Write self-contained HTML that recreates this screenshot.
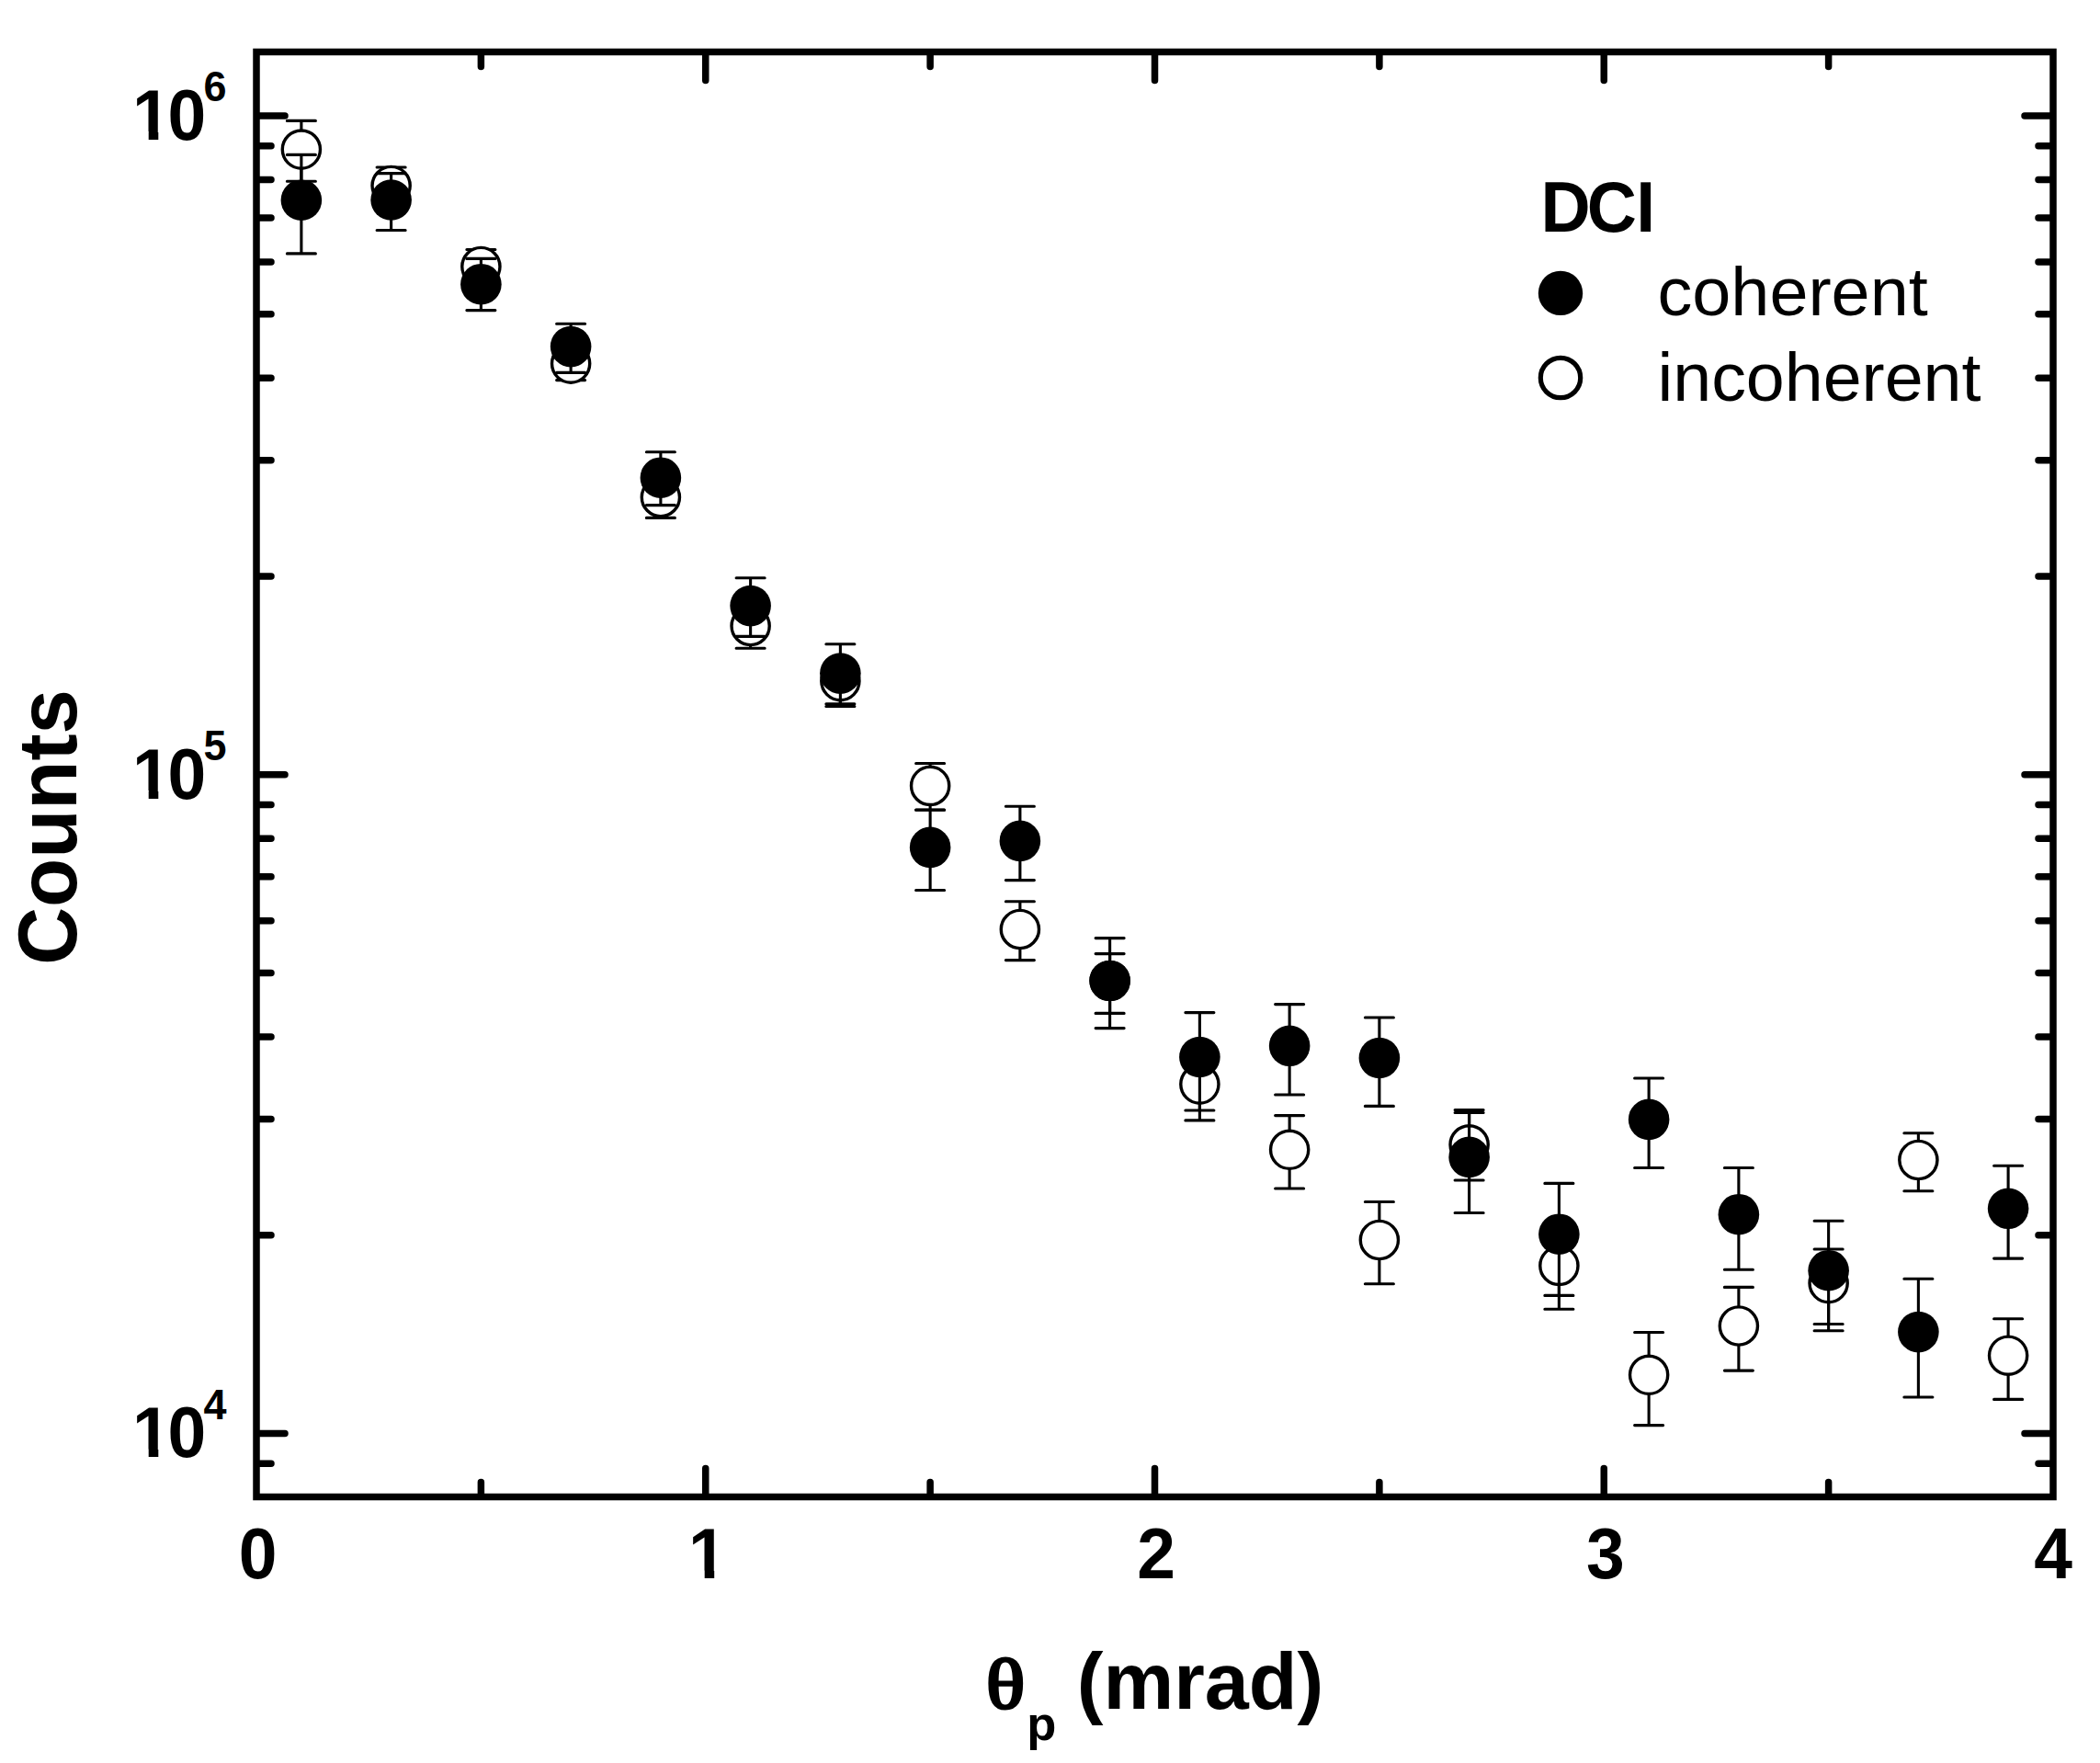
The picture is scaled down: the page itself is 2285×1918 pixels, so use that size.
<!DOCTYPE html>
<html lang="en"><head><meta charset="utf-8"><title>DCI counts vs theta_p</title>
<style>
html,body{margin:0;padding:0;background:#fff;}
body{width:2285px;height:1918px;overflow:hidden;}
svg{display:block;}
text{font-family:"Liberation Sans",Arial,Helvetica,sans-serif;fill:#000;}
.b{font-weight:bold;}
.tk{font-size:75px;font-weight:bold;}
.sup{font-size:45px;font-weight:bold;}
.ttl{font-size:88px;font-weight:bold;}
.lg{font-size:75px;}
.ax{stroke:#000;stroke-width:7.5;stroke-linecap:round;fill:none;}
.eb{stroke:#000;stroke-width:3.1;stroke-linecap:round;fill:none;}
.oc{fill:#fff;stroke:#000;stroke-width:3.4;}
.fc{fill:#000;stroke:none;}
</style></head><body>
<svg width="2285" height="1918" viewBox="0 0 2285 1918">
<rect x="0" y="0" width="2285" height="1918" fill="#fff"/>

<rect x="279.0" y="56.5" width="1955.0" height="1572.0" fill="none" stroke="#000" stroke-width="7.5" stroke-linejoin="miter"/>
<path class="ax" d="M523.38 1627.5V1612.50 M523.38 57.5V72.50 M767.75 1627.5V1597.50 M767.75 57.5V87.50 M1012.12 1627.5V1612.50 M1012.12 57.5V72.50 M1256.50 1627.5V1597.50 M1256.50 57.5V87.50 M1500.88 1627.5V1612.50 M1500.88 57.5V72.50 M1745.25 1627.5V1597.50 M1745.25 57.5V87.50 M1989.62 1627.5V1612.50 M1989.62 57.5V72.50 M280.0 1592.30H295.00 M2233.0 1592.30H2218.00 M280.0 1559.50H310.00 M2233.0 1559.50H2203.00 M280.0 1343.74H295.00 M2233.0 1343.74H2218.00 M280.0 1217.52H295.00 M2233.0 1217.52H2218.00 M280.0 1127.97H295.00 M2233.0 1127.97H2218.00 M280.0 1058.51H295.00 M2233.0 1058.51H2218.00 M280.0 1001.76H295.00 M2233.0 1001.76H2218.00 M280.0 953.78H295.00 M2233.0 953.78H2218.00 M280.0 912.21H295.00 M2233.0 912.21H2218.00 M280.0 875.55H295.00 M2233.0 875.55H2218.00 M280.0 842.75H310.00 M2233.0 842.75H2203.00 M280.0 626.99H295.00 M2233.0 626.99H2218.00 M280.0 500.77H295.00 M2233.0 500.77H2218.00 M280.0 411.22H295.00 M2233.0 411.22H2218.00 M280.0 341.76H295.00 M2233.0 341.76H2218.00 M280.0 285.01H295.00 M2233.0 285.01H2218.00 M280.0 237.03H295.00 M2233.0 237.03H2218.00 M280.0 195.46H295.00 M2233.0 195.46H2218.00 M280.0 158.80H295.00 M2233.0 158.80H2218.00 M280.0 126.00H310.00 M2233.0 126.00H2203.00"/>
<path class="eb" d="M327.88 131.40V197.30M312.38 131.40H343.38M312.38 197.30H343.38 M425.62 182.00V224.00M410.12 182.00H441.12M410.12 224.00H441.12 M523.38 271.50V309.00M507.88 271.50H538.88M507.88 309.00H538.88 M621.12 378.00V413.60M605.62 378.00H636.62M605.62 413.60H636.62 M718.88 519.00V563.40M703.38 519.00H734.38M703.38 563.40H734.38 M816.62 657.00V705.30M801.12 657.00H832.12M801.12 705.30H832.12 M914.38 721.00V765.70M898.88 721.00H929.88M898.88 765.70H929.88 M1012.13 830.50V881.20M996.63 830.50H1027.62M996.63 881.20H1027.62 M1109.88 980.70V1044.60M1094.38 980.70H1125.38M1094.38 1044.60H1125.38 M1207.62 1037.60V1102.40M1192.12 1037.60H1223.12M1192.12 1102.40H1223.12 M1305.38 1143.60V1218.90M1289.88 1143.60H1320.88M1289.88 1218.90H1320.88 M1403.13 1213.60V1293.00M1387.63 1213.60H1418.63M1387.63 1293.00H1418.63 M1500.88 1307.50V1396.80M1485.38 1307.50H1516.38M1485.38 1396.80H1516.38 M1598.62 1207.50V1284.00M1583.12 1207.50H1614.12M1583.12 1284.00H1614.12 M1696.38 1335.80V1424.30M1680.88 1335.80H1711.88M1680.88 1424.30H1711.88 M1794.12 1449.50V1550.60M1778.62 1449.50H1809.62M1778.62 1550.60H1809.62 M1891.88 1400.40V1491.10M1876.38 1400.40H1907.38M1876.38 1491.10H1907.38 M1989.63 1359.00V1440.50M1974.13 1359.00H2005.13M1974.13 1440.50H2005.13 M2087.38 1232.80V1295.80M2071.88 1232.80H2102.88M2071.88 1295.80H2102.88 M2185.12 1434.80V1522.40M2169.62 1434.80H2200.62M2169.62 1522.40H2200.62"/>
<g class="oc"><circle cx="327.88" cy="162.60" r="20.6"/><circle cx="425.62" cy="202.00" r="20.6"/><circle cx="523.38" cy="290.00" r="20.6"/><circle cx="621.12" cy="395.60" r="20.6"/><circle cx="718.88" cy="541.00" r="20.6"/><circle cx="816.62" cy="681.00" r="20.6"/><circle cx="914.38" cy="741.10" r="20.6"/><circle cx="1012.13" cy="854.90" r="20.6"/><circle cx="1109.88" cy="1011.00" r="20.6"/><circle cx="1207.62" cy="1067.00" r="20.6"/><circle cx="1305.38" cy="1179.60" r="20.6"/><circle cx="1403.13" cy="1250.80" r="20.6"/><circle cx="1500.88" cy="1349.00" r="20.6"/><circle cx="1598.62" cy="1245.30" r="20.6"/><circle cx="1696.38" cy="1376.90" r="20.6"/><circle cx="1794.12" cy="1495.80" r="20.6"/><circle cx="1891.88" cy="1442.50" r="20.6"/><circle cx="1989.63" cy="1396.10" r="20.6"/><circle cx="2087.38" cy="1262.00" r="20.6"/><circle cx="2185.12" cy="1474.70" r="20.6"/></g>
<path class="eb" d="M327.88 168.40V275.90M312.38 168.40H343.38M312.38 275.90H343.38 M425.62 188.60V250.50M410.12 188.60H441.12M410.12 250.50H441.12 M523.38 281.40V337.60M507.88 281.40H538.88M507.88 337.60H538.88 M621.12 352.30V405.40M605.62 352.30H636.62M605.62 405.40H636.62 M718.88 491.70V549.60M703.38 491.70H734.38M703.38 549.60H734.38 M816.62 628.70V692.40M801.12 628.70H832.12M801.12 692.40H832.12 M914.38 700.80V768.50M898.88 700.80H929.88M898.88 768.50H929.88 M1012.13 881.00V968.50M996.63 881.00H1027.62M996.63 968.50H1027.62 M1109.88 877.20V957.60M1094.38 877.20H1125.38M1094.38 957.60H1125.38 M1207.62 1020.60V1118.60M1192.12 1020.60H1223.12M1192.12 1118.60H1223.12 M1305.38 1101.60V1208.00M1289.88 1101.60H1320.88M1289.88 1208.00H1320.88 M1403.13 1092.60V1191.00M1387.63 1092.60H1418.63M1387.63 1191.00H1418.63 M1500.88 1107.00V1203.40M1485.38 1107.00H1516.38M1485.38 1203.40H1516.38 M1598.62 1210.50V1319.50M1583.12 1210.50H1614.12M1583.12 1319.50H1614.12 M1696.38 1287.40V1409.40M1680.88 1287.40H1711.88M1680.88 1409.40H1711.88 M1794.12 1173.00V1270.50M1778.62 1173.00H1809.62M1778.62 1270.50H1809.62 M1891.88 1270.50V1381.30M1876.38 1270.50H1907.38M1876.38 1381.30H1907.38 M1989.63 1328.30V1447.70M1974.13 1328.30H2005.13M1974.13 1447.70H2005.13 M2087.38 1391.30V1520.00M2071.88 1391.30H2102.88M2071.88 1520.00H2102.88 M2185.12 1268.20V1369.10M2169.62 1268.20H2200.62M2169.62 1369.10H2200.62"/>
<g class="fc"><circle cx="327.88" cy="217.70" r="22.3"/><circle cx="425.62" cy="217.50" r="22.3"/><circle cx="523.38" cy="309.20" r="22.3"/><circle cx="621.12" cy="377.10" r="22.3"/><circle cx="718.88" cy="519.70" r="22.3"/><circle cx="816.62" cy="659.10" r="22.3"/><circle cx="914.38" cy="732.60" r="22.3"/><circle cx="1012.13" cy="921.90" r="22.3"/><circle cx="1109.88" cy="914.90" r="22.3"/><circle cx="1207.62" cy="1067.00" r="22.3"/><circle cx="1305.38" cy="1150.00" r="22.3"/><circle cx="1403.13" cy="1137.80" r="22.3"/><circle cx="1500.88" cy="1151.00" r="22.3"/><circle cx="1598.62" cy="1258.90" r="22.3"/><circle cx="1696.38" cy="1342.70" r="22.3"/><circle cx="1794.12" cy="1217.90" r="22.3"/><circle cx="1891.88" cy="1321.20" r="22.3"/><circle cx="1989.63" cy="1382.20" r="22.3"/><circle cx="2087.38" cy="1449.10" r="22.3"/><circle cx="2185.12" cy="1314.80" r="22.3"/></g>
<g clip-path="url(#c0)"><text dx="0 -3.1" class="tk" transform="translate(144.0 151.8) scale(1.0 1.045)">10</text></g>
<text class="sup" transform="translate(221.5 110.0) scale(1.0 1.03)">6</text>
<g clip-path="url(#c1)"><text dx="0 -3.1" class="tk" transform="translate(144.0 868.5) scale(1.0 1.045)">10</text></g>
<text class="sup" transform="translate(221.5 826.8) scale(1.0 1.03)">5</text>
<g clip-path="url(#c2)"><text dx="0 -3.1" class="tk" transform="translate(144.0 1585.3) scale(1.0 1.045)">10</text></g>
<text class="sup" transform="translate(221.5 1543.5) scale(1.0 1.03)">4</text>
<text class="tk" transform="translate(280.5 1717.3) scale(1.0 1.045)" text-anchor="middle">0</text>
<g clip-path="url(#c3)"><text class="tk" transform="translate(749.0 1717.3) scale(1.0 1.045)">1</text></g>
<text class="tk" transform="translate(1258.0 1717.3) scale(1.0 1.045)" text-anchor="middle">2</text>
<text class="tk" transform="translate(1746.8 1717.3) scale(1.0 1.045)" text-anchor="middle">3</text>
<text class="tk" transform="translate(2234.2 1717.3) scale(1.0 1.045)" text-anchor="middle">4</text>
<text class="ttl" style="font-size:87px" transform="translate(83.3 900) rotate(-90) scale(1 1.05)" text-anchor="middle">Counts</text>
<text transform="translate(1073 1858.4) scale(1 0.874)" style="font-family:'Liberation Serif','DejaVu Serif',serif;font-size:88px;stroke:#000;stroke-width:3.5px;stroke-linejoin:round">θ</text>
<text class="b" transform="translate(1117.3 1893.4) scale(1.0 1.0)" style="font-size:52.5px">p</text>
<text class="ttl" transform="translate(1171.8 1858.8) scale(0.992 1.0)" style="font-size:87px">(mrad)</text>
<text dx="0 -3.9 -0.7" class="tk" transform="translate(1676.5 251.8) scale(1.0 1.045)">DCI</text>
<circle cx="1698" cy="318.9" r="24.2" fill="#000"/>
<circle cx="1698" cy="411" r="21.7" fill="#fff" stroke="#000" stroke-width="5.2"/>
<text class="lg" transform="translate(1803.5 342.8) scale(1.008 1.0)">coherent</text>
<text class="lg" transform="translate(1803.5 435.9) scale(1.005 1.0)">incoherent</text>
<defs><clipPath id="c0" clipPathUnits="userSpaceOnUse"><path d="M147.0 91.8H172.3V153.8H161.7V143.2H147.0ZM184.8 91.8h60v70.0h-60Z"/></clipPath><clipPath id="c1" clipPathUnits="userSpaceOnUse"><path d="M147.0 808.5H172.3V870.5H161.7V859.9H147.0ZM184.8 808.5h60v70.0h-60Z"/></clipPath><clipPath id="c2" clipPathUnits="userSpaceOnUse"><path d="M147.0 1525.3H172.3V1587.3H161.7V1576.7H147.0ZM184.8 1525.3h60v70.0h-60Z"/></clipPath><clipPath id="c3" clipPathUnits="userSpaceOnUse"><path d="M752.0 1657.3H777.2V1719.3H766.7V1708.7H752.0Z"/></clipPath></defs>
</svg></body></html>
